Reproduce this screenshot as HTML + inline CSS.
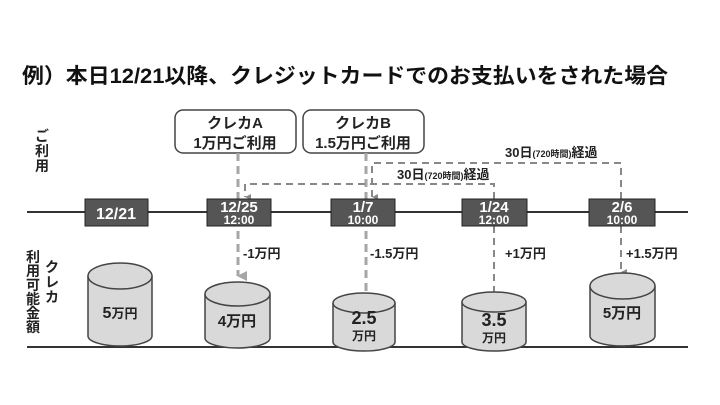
<!DOCTYPE html><html><head><style>body{margin:0;background:#fff}svg{display:block}text{font-family:"Liberation Sans","Noto Sans CJK JP",sans-serif;font-weight:bold}</style></head><body>
<svg width="720" height="405" viewBox="0 0 720 405">
<defs><marker id="ag" markerWidth="10" markerHeight="10" refX="5" refY="9" orient="auto" markerUnits="userSpaceOnUse"><path d="M0,0 L10,0 L5,10z" fill="#a6a6a6"/></marker>
<marker id="as" markerWidth="6" markerHeight="6" refX="3" refY="6" orient="auto" markerUnits="userSpaceOnUse"><path d="M0,0 L6,0 L3,6z" fill="#888"/></marker></defs>
<text x="22" y="83" font-size="21" fill="#111" textLength="646" lengthAdjust="spacingAndGlyphs">例）本日12/21以降、クレジットカードでのお支払いをされた場合</text>
<g fill="#fff" stroke="#444" stroke-width="1.5"><rect x="175" y="110" width="121" height="43" rx="8"/><rect x="303" y="110" width="121" height="43" rx="8"/></g>
<g font-size="15" fill="#222" text-anchor="middle"><text x="235" y="128">クレカA</text><text x="235" y="148">1万円ご利用</text><text x="363" y="128">クレカB</text><text x="363" y="148">1.5万円ご利用</text></g>
<g font-size="14" fill="#222" text-anchor="middle"><text x="42" y="141">ご</text><text x="42" y="156">利</text><text x="42" y="171">用</text>
<text x="33" y="262">利</text><text x="33" y="276">用</text><text x="33" y="290">可</text><text x="33" y="304">能</text><text x="33" y="318">金</text><text x="33" y="332">額</text>
<text x="52" y="272">ク</text><text x="52" y="287">レ</text><text x="52" y="302">カ</text></g>
<line x1="27" y1="212" x2="688" y2="212" stroke="#333" stroke-width="2"/>
<line x1="27" y1="347" x2="688" y2="347" stroke="#333" stroke-width="2"/>
<g stroke="#a6a6a6" stroke-width="3" stroke-dasharray="8,5" fill="none">
<line x1="238" y1="153" x2="238" y2="276" marker-end="url(#ag)"/>
<line x1="366" y1="153" x2="366" y2="306" marker-end="url(#ag)"/></g>
<g stroke="#888" stroke-width="2" stroke-dasharray="7,5" fill="none">
<path d="M494 199 V184 H245 V197" marker-end="url(#as)"/>
<path d="M621 199 V163 H372 V197" marker-end="url(#as)"/>
<line x1="494" y1="226" x2="494" y2="297" marker-end="url(#as)"/>
<line x1="621" y1="226" x2="621" y2="272" marker-end="url(#as)"/></g>
<g font-size="13" fill="#222"><text x="397" y="179">30日<tspan font-size="9">(720時間)</tspan>経過</text><text x="505" y="157">30日<tspan font-size="9">(720時間)</tspan>経過</text></g>
<g fill="#555" stroke="#222" stroke-width="1"><rect x="85" y="199" width="63" height="27"/><rect x="207" y="199" width="64" height="27"/><rect x="331" y="199" width="64" height="27"/><rect x="462" y="199" width="65" height="27"/><rect x="589" y="199" width="66" height="27"/></g>
<g fill="#fff" text-anchor="middle"><text x="116" y="219" font-size="16">12/21</text>
<text x="239" y="212" font-size="15">12/25</text><text x="239" y="224" font-size="12">12:00</text>
<text x="363" y="212" font-size="15">1/7</text><text x="363" y="224" font-size="12">10:00</text>
<text x="494" y="212" font-size="15">1/24</text><text x="494" y="224" font-size="12">12:00</text>
<text x="622" y="212" font-size="15">2/6</text><text x="622" y="224" font-size="12">10:00</text></g>
<g font-size="13" fill="#222"><text x="243" y="258">-1万円</text><text x="370" y="258">-1.5万円</text><text x="505" y="258">+1万円</text><text x="626" y="258">+1.5万円</text></g>
<g fill="#d9d9d9" stroke="#444" stroke-width="1.5">
<path d="M88 276 V336 A32 10 0 0 0 152 336 V276"/><ellipse cx="120" cy="276" rx="32" ry="13"/>
<path d="M205 294 V338 A32.5 10 0 0 0 270 338 V294"/><ellipse cx="237.5" cy="294" rx="32.5" ry="12"/>
<path d="M333 303 V342 A31 9 0 0 0 395 342 V303"/><ellipse cx="364" cy="303" rx="31" ry="10"/>
<path d="M462 302 V342 A32 9 0 0 0 526 342 V302"/><ellipse cx="494" cy="302" rx="32" ry="10"/>
<path d="M590 286 V336 A32.5 10 0 0 0 655 336 V286"/><ellipse cx="622.5" cy="286" rx="32.5" ry="13"/></g>
<g fill="#222" text-anchor="middle"><text x="120" y="318" font-size="16">5<tspan font-size="13">万円</tspan></text>
<text x="237" y="326" font-size="15">4万円</text>
<text x="364" y="324" font-size="18">2.5</text><text x="364" y="340" font-size="12">万円</text>
<text x="494" y="326" font-size="18">3.5</text><text x="494" y="342" font-size="12">万円</text>
<text x="622" y="318" font-size="15">5万円</text></g>
</svg></body></html>
